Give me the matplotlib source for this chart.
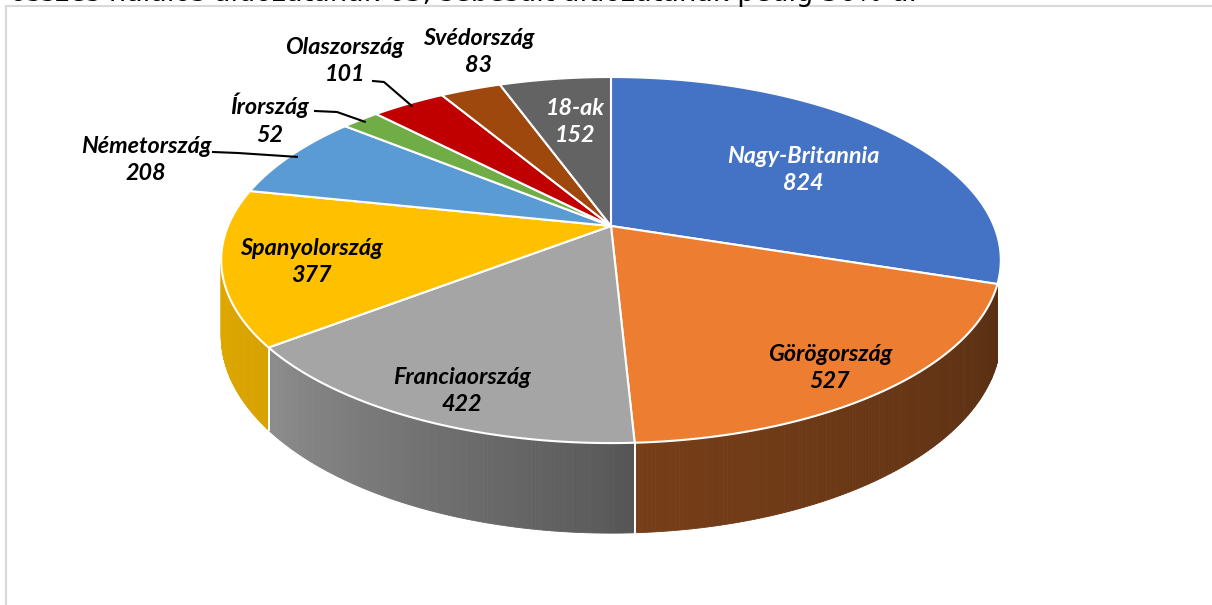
import numpy as np
from matplotlib import pyplot as plt
from matplotlib.patches import Polygon

labels = ["Nagy-Britannia", "Görögország", "Franciaország", "Spanyolország",
          "Németország", "Írország", "Olaszország", "Svédország", "18-ak"]
values = [824, 527, 422, 377, 208, 52, 101, 83, 152]
colors = ["#4472c4", "#ed7d31", "#a5a5a5", "#ffc000", "#5b9bd5",
          "#70ad47", "#c00000", "#9e480e", "#636363"]
text_colors = ["white", "black", "black", "black", "black", "black", "black", "black", "white"]
header = "összes halálos áldozatának 63, sebesült áldozatának pedig 56%-a."

# layout (pixel coords, y down)
cx, cy = 611, 226
ax_r, ay_r = 383, 176.7
k = 0.186          # perspective factor
depth = 73.3
label_xy = [(803, 170), (830, 368), (462, 391), (311, 262), (146, 160),
            (270, 119), (345, 61), (479, 52), (575, 122)]
leader = {4: (213, 152, 238), 5: (315, 111, 337), 6: (373, 81, 384)}


def proj(t, r=1.0):
    X = r * np.cos(t)
    Y = r * np.sin(t)
    d = 1 + k * Y
    return cx + ax_r * X / d, cy - ay_r * Y / d


def side_shade(deg):
    return np.interp(deg, [190, 220, 268, 274, 350], [0.88, 0.84, 0.56, 0.5, 0.36])


def shade(c, f):
    rgb = np.array(plt.matplotlib.colors.to_rgb(c))
    return tuple(rgb * f)


fig = plt.figure(figsize=(12.12, 6.05), dpi=100)
ax = fig.add_axes([0, 0, 1, 1])
ax.set_xlim(0, 1212)
ax.set_ylim(605, 0)
ax.axis("off")

total = float(sum(values))
bounds = 90 - np.concatenate([[0], np.cumsum(values)]) / total * 360  # degrees, clockwise

# visible range of the side wall
t_left = 180 + np.degrees(np.arcsin(k))
t_right = min(360 - np.degrees(np.arcsin(k)), bounds[1] % 360)

# sides
for i in range(len(values)):
    a0, a1 = bounds[i], bounds[i + 1]
    lo, hi = (a1 % 360), (a0 % 360)
    if hi <= lo:
        hi += 360
    segs = []
    for base in (0, 360, -360):
        s0 = max(lo + base, t_left)
        s1 = min(hi + base, t_right)
        if s1 > s0:
            segs.append((s0, s1))
    for s0, s1 in segs:
        ts = np.linspace(s0, s1, max(int((s1 - s0) * 2), 2))
        for j in range(len(ts) - 1):
            tt = np.radians([ts[j], ts[j + 1]])
            x0, y0 = proj(tt[0])
            x1, y1 = proj(tt[1])
            d0 = depth / (1 + k * np.sin(tt[0]))
            d1 = depth / (1 + k * np.sin(tt[1]))
            col = shade(colors[i], side_shade((ts[j] + ts[j + 1]) / 2))
            ax.add_patch(Polygon([(x0, y0), (x1, y1), (x1, y1 + d1), (x0, y0 + d0)],
                                 closed=True, facecolor=col, edgecolor=col, lw=0.6))
        for s in (s0, s1):
            if t_left + 0.5 < s < t_right - 0.5:
                tr = np.radians(s)
                x, y = proj(tr)
                d = depth / (1 + k * np.sin(tr))
                ax.plot([x, x], [y, y + d], color="white", lw=1.3)

# tops
for i in range(len(values)):
    ts = np.radians(np.linspace(bounds[i], bounds[i + 1], 200))
    xs, ys = proj(ts)
    pts = [(cx, cy)] + list(zip(xs, ys))
    ax.add_patch(Polygon(pts, closed=True, facecolor=colors[i], edgecolor="white",
                         lw=1.5, joinstyle="round"))

# labels
for i, (lab, v) in enumerate(zip(labels, values)):
    x, y = label_xy[i]
    ax.text(x, y, f"{lab}\n{v}", ha="center", va="center", color=text_colors[i],
            fontsize=16.8, fontweight="bold", fontstyle="italic",
            family=["Lato", "DejaVu Sans"], linespacing=1.4)
    if i in leader:
        lx, ly, mx = leader[i]
        mid = np.radians((bounds[i] + bounds[i + 1]) / 2)
        ex, ey = proj(mid, 0.98)
        ax.plot([lx, mx, ex], [ly, ly + 1, ey], color="black", lw=1.5)

# frame
ax.plot([6, 1212], [6, 6], color="#d9d9d9", lw=1.5)
ax.plot([6, 6], [6, 605], color="#d9d9d9", lw=1.5)

fig.text(10 / 1212, 1 - 1 / 605, header, ha="left", va="baseline",
         fontsize=19.5, color="black", family=["DejaVu Sans"])

fig.savefig("out.png", dpi=100)
